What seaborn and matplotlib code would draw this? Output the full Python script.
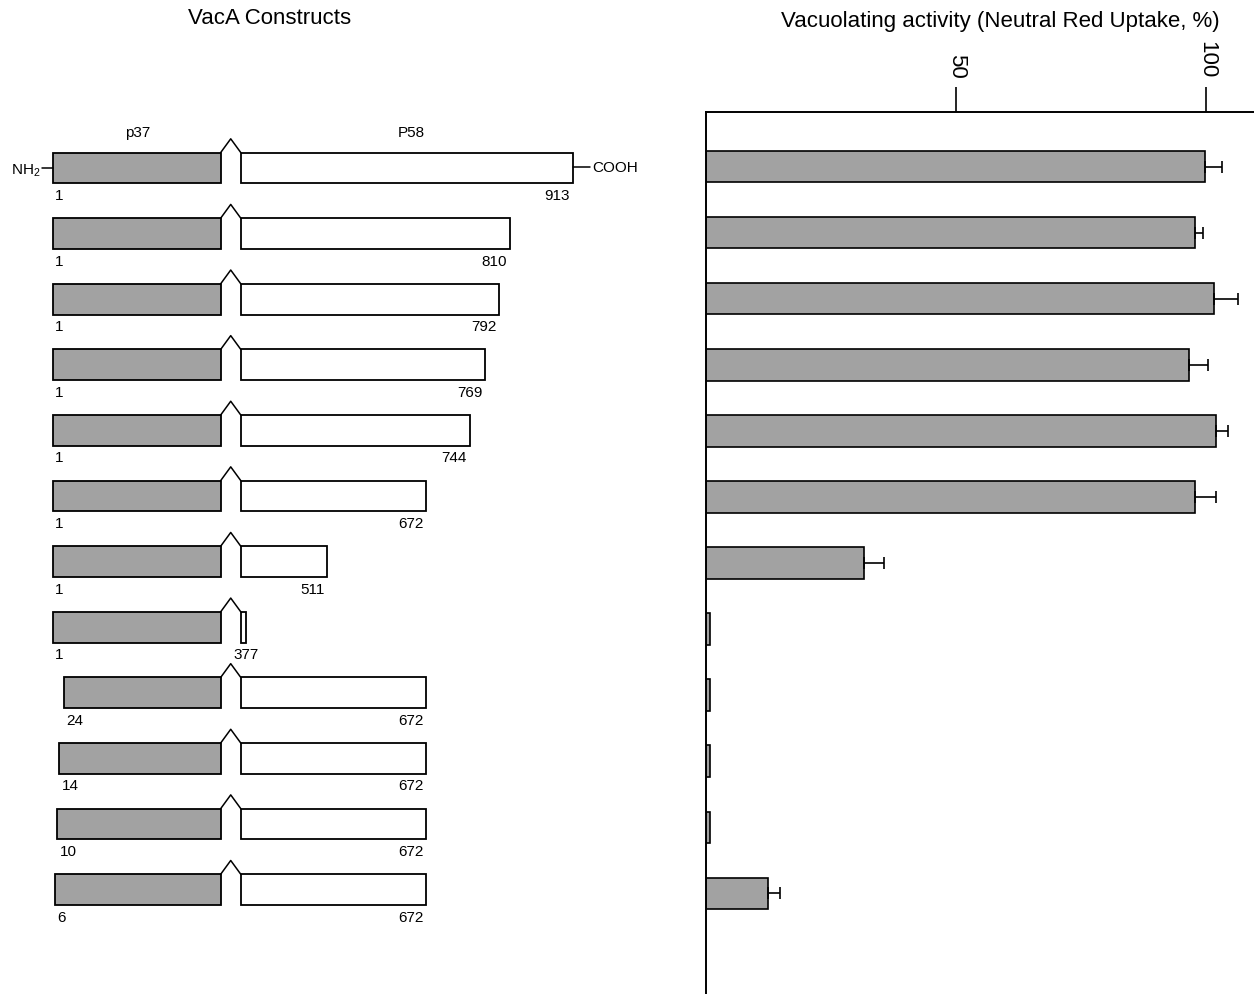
import numpy as np
import pandas as pd
import seaborn as sns
import matplotlib.pyplot as plt

# constructs (residue numbers) and vacuolating activity
n_start = [1, 1, 1, 1, 1, 1, 1, 1, 24, 14, 10, 6]
c_end = [913, 810, 792, 769, 744, 672, 511, 377, 672, 672, 672, 672]
activity = [99.8, 97.8, 101.6, 96.6, 102.0, 97.8, 31.6, 0.8, 0.7, 0.8, 0.8, 12.4]
act_err = [3.4, 1.6, 4.8, 3.8, 2.4, 4.2, 4.0, 0, 0, 0, 0, 2.4]
constructs = [f"{a}-{b}" for a, b in zip(n_start, c_end)]

P37_END = 336
P58_START = 369

sns.set_style('white')
plt.rcParams['font.family'] = ['Liberation Sans', 'DejaVu Sans']
plt.rcParams['text.color'] = 'black'
plt.rcParams['xtick.color'] = 'black'

GRAY = '#a2a2a2'
FS = 11

# schematic is not to scale: piecewise linear residue axis
res_pts = [-150, 330, 1200]
map_pts = [-22.3, 217.0, 747.7]
def fwd(r):
    return np.interp(r, res_pts, map_pts)
def inv(p):
    return np.interp(p, map_pts, res_pts)

fig = plt.figure(figsize=(12.54, 9.95), dpi=100)

# ---- left: constructs ----
ax1 = fig.add_axes([0, 0, 0.53, 1])
ax1.set_xscale('function', functions=(fwd, inv))
ax1.set_xlim(inv(0), inv(0.53 * 1254))
ax1.set_ylim(12.59, -2.576)
ax1.axis('off')

rows = np.arange(len(n_start))
h = 0.47
ax1.barh(rows, [P37_END - s for s in n_start], left=n_start, height=h,
         color=GRAY, edgecolor='black', linewidth=1.3)
ax1.barh(rows, [e - P58_START for e in c_end], left=P58_START, height=h,
         color='white', edgecolor='black', linewidth=1.3)
peak = inv((fwd(P37_END) + fwd(P58_START)) / 2)
for k in rows:
    top = k - h / 2
    ax1.plot([P37_END, peak, P58_START], [top, top - 0.21, top], color='black', lw=1.1)
    ax1.text(n_start[k] + 4, k + 0.41, str(n_start[k]), ha='left', va='center', fontsize=FS)
    if c_end[k] - P58_START < 30:
        ax1.text(c_end[k], k + 0.41, str(c_end[k]), ha='center', va='center', fontsize=FS)
    else:
        ax1.text(c_end[k] - 4, k + 0.41, str(c_end[k]), ha='right', va='center', fontsize=FS)

ax1.plot([-21, n_start[0]], [0, 0], color='black', lw=1.1)
ax1.text(-23, 0.03, 'NH$_{\\mathregular{2}}$', ha='right', va='center', fontsize=FS)
ax1.plot([c_end[0], c_end[0] + 28], [-0.02, -0.02], color='black', lw=1.1)
ax1.text(c_end[0] + 32, -0.02, 'COOH', ha='left', va='center', fontsize=FS)
ax1.text(171, -0.55, 'p37', ha='center', va='center', fontsize=FS)
ax1.text(648, -0.55, 'P58', ha='center', va='center', fontsize=FS)

fig.text(270 / 1254, 1 - 19 / 995, 'VacA Constructs', ha='center', va='center', fontsize=16)
fig.text(1000 / 1254, 1 - 21 / 995, 'Vacuolating activity (Neutral Red Uptake, %)',
         ha='center', va='center', fontsize=16)

# ---- right: activity bars ----
ax2 = fig.add_axes([706 / 1254, 0, 548 / 1254, 882 / 995])
df = pd.DataFrame({'construct': constructs, 'activity': activity})
sns.barplot(data=df, x='activity', y='construct', orient='h', color=GRAY,
            saturation=1, edgecolor='black', linewidth=1.2, width=0.47,
            errorbar=None, ax=ax2)
err = np.array(act_err)
act = np.array(activity)
m = err > 0
ax2.errorbar(act[m], rows[m], xerr=[np.zeros(m.sum()), err[m]], fmt='none',
             ecolor='black', elinewidth=1.2, capsize=4.5, capthick=1.2)

ax2.set_xlim(0, 109.5)
ax2.set_ylim(12.53, -0.833)
ax2.set_yticks([])
ax2.set_ylabel('')
ax2.set_xlabel('')
ax2.xaxis.tick_top()
ax2.set_xticks([50, 100])
ax2.tick_params(axis='x', direction='out', length=18, width=1.2, pad=7,
                labelsize=16, labelrotation=-90, top=True, bottom=False)
for s in ['right', 'bottom']:
    ax2.spines[s].set_visible(False)
for s in ['left', 'top']:
    ax2.spines[s].set_linewidth(1.4)
    ax2.spines[s].set_color('black')

fig.savefig('out.png', dpi=100)
